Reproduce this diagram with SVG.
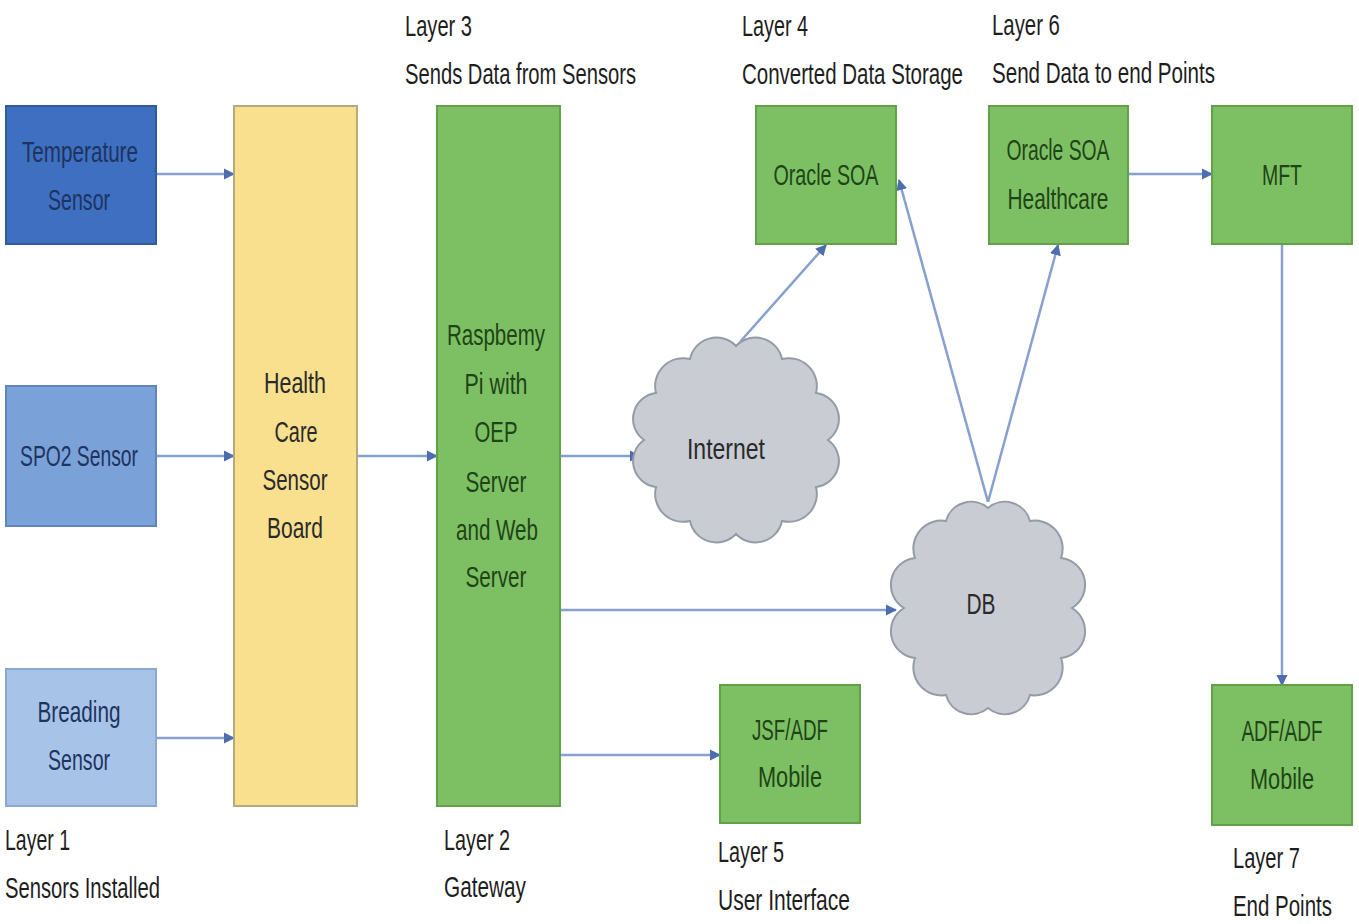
<svg xmlns="http://www.w3.org/2000/svg" width="1359" height="924" viewBox="0 0 1359 924">
<style>
  text { font-family: "Liberation Sans", Arial, sans-serif; font-size: 29px; text-anchor: middle; }
  .lbl { font-size: 30px; text-anchor: start; fill: #1e1e1e; }
  .blue1 { fill: #3f6fc0; stroke: #2f5a9e; stroke-width: 2; }
  .blue2 { fill: #7ba1d9; stroke: #5f86bf; stroke-width: 2; }
  .blue3 { fill: #a8c3e8; stroke: #8aa7d0; stroke-width: 2; }
  .yellow { fill: #f8e08f; stroke: #b5aa7e; stroke-width: 2; }
  .green { fill: #7dc064; stroke: #62a04c; stroke-width: 2; }
  .cloud { fill: #c9cdd3; stroke: #939ba6; stroke-width: 2; }
  .tb { fill: #1d3460; }
  .tg { fill: #1f4416; }
  .tk { fill: #2a2a2a; }
  .conn { stroke: #86a0cf; stroke-width: 2.5; fill: none; marker-end: url(#arr); }
</style>
<defs>
  <marker id="arr" viewBox="0 0 10 10" refX="9" refY="5" markerWidth="4.5" markerHeight="4.5" orient="auto" markerUnits="strokeWidth">
    <path d="M0,0 L10,5 L0,10 z" fill="#4d6dae"/>
  </marker>
</defs>
<rect width="1359" height="924" fill="#ffffff"/>

<g id="connectors">
  <line class="conn" x1="157" y1="174" x2="234" y2="174"/>
  <line class="conn" x1="157" y1="456" x2="234" y2="456"/>
  <line class="conn" x1="157" y1="738" x2="234" y2="738"/>
  <line class="conn" x1="358" y1="456" x2="437" y2="456"/>
  <line class="conn" x1="561" y1="456" x2="640" y2="456"/>
  <line class="conn" x1="561" y1="610" x2="896" y2="610"/>
  <line class="conn" x1="561" y1="755" x2="720" y2="755"/>
  <line class="conn" x1="740" y1="342" x2="826" y2="245"/>
  <line class="conn" x1="988" y1="502" x2="899" y2="180"/>
  <line class="conn" x1="988" y1="502" x2="1058" y2="245"/>
  <line class="conn" x1="1129" y1="174" x2="1212" y2="174"/>
  <line class="conn" x1="1282" y1="245" x2="1282" y2="685"/>
</g>

<g id="temperature-sensor">
  <rect class="blue1" x="6" y="106" width="150" height="138"/>
  <g transform="scale(0.7,1)">
    <text class="tb" x="114.3" y="162" textLength="165.7" lengthAdjust="spacingAndGlyphs">Temperature</text>
    <text class="tb" x="112.9" y="210" textLength="88.6" lengthAdjust="spacingAndGlyphs">Sensor</text>
  </g>
</g>
<g id="spo2-sensor">
  <rect class="blue2" x="6" y="386" width="150" height="140"/>
  <g transform="scale(0.7,1)">
    <text class="tb" x="112.9" y="466" textLength="168.6" lengthAdjust="spacingAndGlyphs">SPO2 Sensor</text>
  </g>
</g>
<g id="breading-sensor">
  <rect class="blue3" x="6" y="669" width="150" height="137"/>
  <g transform="scale(0.7,1)">
    <text class="tb" x="112.9" y="722" textLength="118.6" lengthAdjust="spacingAndGlyphs">Breading</text>
    <text class="tb" x="112.9" y="770" textLength="88.6" lengthAdjust="spacingAndGlyphs">Sensor</text>
  </g>
</g>
<g id="sensor-board">
  <rect class="yellow" x="234" y="106" width="123" height="700"/>
  <g transform="scale(0.7,1)">
    <text class="tk" x="421.4" y="393" textLength="88.6" lengthAdjust="spacingAndGlyphs">Health</text>
    <text class="tk" x="422.9" y="442" textLength="61.4" lengthAdjust="spacingAndGlyphs">Care</text>
    <text class="tk" x="421.4" y="490" textLength="92.9" lengthAdjust="spacingAndGlyphs">Sensor</text>
    <text class="tk" x="421.4" y="538" textLength="80" lengthAdjust="spacingAndGlyphs">Board</text>
  </g>
</g>
<g id="raspberry-pi">
  <rect class="green" x="437" y="106" width="123" height="700"/>
  <g transform="scale(0.7,1)">
    <text class="tg" x="708.6" y="345" textLength="140" lengthAdjust="spacingAndGlyphs">Raspbemy</text>
    <text class="tg" x="708.6" y="394" textLength="90" lengthAdjust="spacingAndGlyphs">Pi with</text>
    <text class="tg" x="708.6" y="442" textLength="61.4" lengthAdjust="spacingAndGlyphs">OEP</text>
    <text class="tg" x="708.6" y="492" textLength="87.1" lengthAdjust="spacingAndGlyphs">Server</text>
    <text class="tg" x="710" y="540" textLength="117.1" lengthAdjust="spacingAndGlyphs">and Web</text>
    <text class="tg" x="708.6" y="587" textLength="87.1" lengthAdjust="spacingAndGlyphs">Server</text>
  </g>
</g>
<g id="oracle-soa">
  <rect class="green" x="756" y="106" width="140" height="138"/>
  <g transform="scale(0.7,1)">
    <text class="tg" x="1180" y="185" textLength="150" lengthAdjust="spacingAndGlyphs">Oracle SOA</text>
  </g>
</g>
<g id="oracle-soa-healthcare">
  <rect class="green" x="989" y="106" width="139" height="138"/>
  <g transform="scale(0.7,1)">
    <text class="tg" x="1511.4" y="160" textLength="147.1" lengthAdjust="spacingAndGlyphs">Oracle SOA</text>
    <text class="tg" x="1511.4" y="209" textLength="144.3" lengthAdjust="spacingAndGlyphs">Healthcare</text>
  </g>
</g>
<g id="mft">
  <rect class="green" x="1212" y="106" width="140" height="138"/>
  <g transform="scale(0.7,1)">
    <text class="tg" x="1831.4" y="185" textLength="57.1" lengthAdjust="spacingAndGlyphs">MFT</text>
  </g>
</g>
<g id="jsf-adf-mobile">
  <rect class="green" x="720" y="685" width="140" height="138"/>
  <g transform="scale(0.7,1)">
    <text class="tg" x="1128.6" y="740" textLength="108.6" lengthAdjust="spacingAndGlyphs">JSF/ADF</text>
    <text class="tg" x="1128.6" y="787" textLength="91.4" lengthAdjust="spacingAndGlyphs">Mobile</text>
  </g>
</g>
<g id="adf-adf-mobile">
  <rect class="green" x="1212" y="685" width="140" height="140"/>
  <g transform="scale(0.7,1)">
    <text class="tg" x="1831.4" y="741" textLength="115.7" lengthAdjust="spacingAndGlyphs">ADF/ADF</text>
    <text class="tg" x="1831.4" y="789" textLength="91.4" lengthAdjust="spacingAndGlyphs">Mobile</text>
  </g>
</g>
<g id="internet">
  <path class="cloud" d="M828,440 A26,26 0 0 1 816,487 A28,28 0 0 1 782,521 A27,27 0 0 1 736,534 A27,27 0 0 1 690,521 A28,28 0 0 1 656,487 A26,26 0 0 1 644,440 A26,26 0 0 1 656,393 A28,28 0 0 1 690,359 A27,27 0 0 1 736,346 A27,27 0 0 1 782,359 A28,28 0 0 1 816,393 A26,26 0 0 1 828,440 Z"/>
  <g transform="scale(0.7,1)">
    <text class="tk" x="1037.1" y="459" textLength="111.4" lengthAdjust="spacingAndGlyphs">Internet</text>
  </g>
</g>
<g id="db">
  <path class="cloud" d="M1072,608 A27,27 0 0 1 1061,658 A28,28 0 0 1 1030,695 A26,26 0 0 1 988,708 A26,26 0 0 1 946,695 A28,28 0 0 1 915,658 A27,27 0 0 1 904,608 A27,27 0 0 1 915,558 A28,28 0 0 1 946,521 A26,26 0 0 1 988,508 A26,26 0 0 1 1030,521 A28,28 0 0 1 1061,558 A27,27 0 0 1 1072,608 Z"/>
  <g transform="scale(0.7,1)">
    <text class="tk" x="1401.4" y="614" textLength="41.4" lengthAdjust="spacingAndGlyphs">DB</text>
  </g>
</g>

<g id="labels" transform="scale(0.7,1)">
  <text class="lbl" x="578.6" y="36" textLength="95.7" lengthAdjust="spacingAndGlyphs">Layer 3</text>
  <text class="lbl" x="578.6" y="84" textLength="330" lengthAdjust="spacingAndGlyphs">Sends Data from Sensors</text>
  <text class="lbl" x="1060" y="36" textLength="94.3" lengthAdjust="spacingAndGlyphs">Layer 4</text>
  <text class="lbl" x="1060" y="84" textLength="315.7" lengthAdjust="spacingAndGlyphs">Converted Data Storage</text>
  <text class="lbl" x="1417.1" y="35" textLength="97.1" lengthAdjust="spacingAndGlyphs">Layer 6</text>
  <text class="lbl" x="1417.1" y="83" textLength="318.6" lengthAdjust="spacingAndGlyphs">Send Data to end Points</text>
  <text class="lbl" x="7.1" y="850" textLength="92.9" lengthAdjust="spacingAndGlyphs">Layer 1</text>
  <text class="lbl" x="7.1" y="898" textLength="221.4" lengthAdjust="spacingAndGlyphs">Sensors Installed</text>
  <text class="lbl" x="634.3" y="850" textLength="94.3" lengthAdjust="spacingAndGlyphs">Layer 2</text>
  <text class="lbl" x="634.3" y="897" textLength="117.1" lengthAdjust="spacingAndGlyphs">Gateway</text>
  <text class="lbl" x="1025.7" y="862" textLength="94.3" lengthAdjust="spacingAndGlyphs">Layer 5</text>
  <text class="lbl" x="1025.7" y="910" textLength="188.6" lengthAdjust="spacingAndGlyphs">User Interface</text>
  <text class="lbl" x="1761.4" y="868" textLength="95.7" lengthAdjust="spacingAndGlyphs">Layer 7</text>
  <text class="lbl" x="1761.4" y="916" textLength="141.4" lengthAdjust="spacingAndGlyphs">End Points</text>
</g>
</svg>
